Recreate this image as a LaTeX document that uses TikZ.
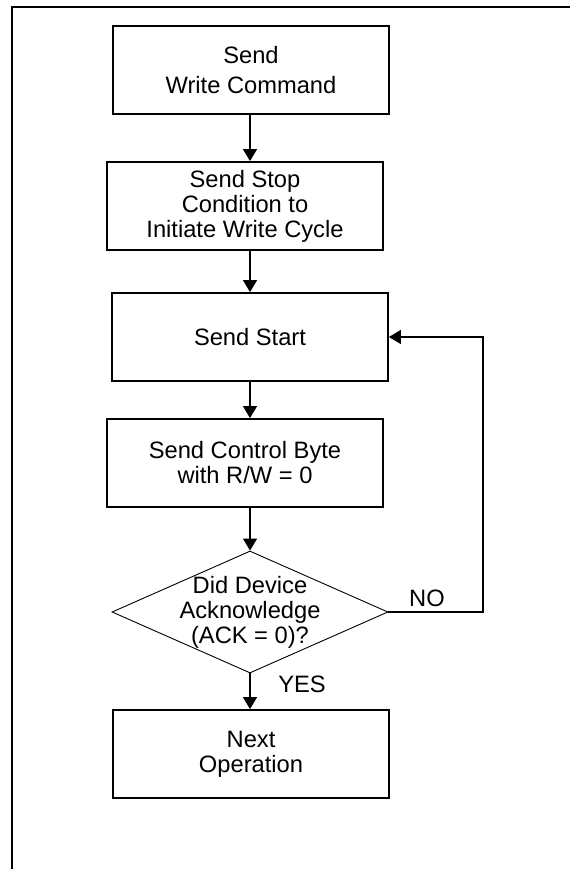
\documentclass[tikz,border=0pt]{standalone}
\usepackage{fontspec}
\setmainfont{Liberation Sans}
\usetikzlibrary{arrows.meta,shapes.geometric}
\begin{document}
\begin{tikzpicture}[x=1pt,y=-1pt,
  every node/.style={font=\fontsize{23.7pt}{25pt}\selectfont},
  procbox/.style={draw, line width=1.8pt, minimum width=276pt, minimum height=88pt, align=center, inner sep=0pt},
  decbox/.style={draw, diamond, line width=0.9pt, minimum width=276pt, minimum height=122pt, inner sep=0pt},
  flow/.style={line width=1.3pt, -{Triangle[width=14pt,length=12pt]}},
  lbl/.style={inner sep=0pt, align=center},
  frame/.style={line width=2pt}
]
\useasboundingbox (0,0) rectangle (570,869);
\draw[frame] (570,7) -- (12,7) -- (12,869);

\node[procbox] (b1) at (251,70) {Send\\[5pt]Write Command};
\node[procbox] (b2) at (245,206) {Send Stop\\Condition to\\Initiate Write Cycle};
\node[procbox] (b3) at (250,337) {Send Start};
\node[procbox] (b4) at (245,463) {Send Control Byte\\with R/W = 0};
\node[decbox] (dec) at (250,612) {};
\node[lbl] (dect) at (dec.center) {Did Device\\Acknowledge\\(ACK = 0)?};
\node[procbox] (b5) at (251,754) {Next\\Operation};

\coordinate (ax) at (250,0);
\coordinate (loopc) at (483,337);

\draw[flow] (b1.south -| ax) -- (b2.north -| ax);
\draw[flow] (b2.south -| ax) -- (b3.north -| ax);
\draw[flow] (b3.south -| ax) -- (b4.north -| ax);
\draw[flow] (b4.south -| ax) -- (dec.north);
\draw[flow] (dec.south) -- (b5.north -| ax);
\draw[flow] (dec.east) -| (loopc) -- (b3.east);

\node[lbl] (no) at (427,598) {NO};
\node[lbl] (yes) at (302,684) {YES};
\end{tikzpicture}
\end{document}
